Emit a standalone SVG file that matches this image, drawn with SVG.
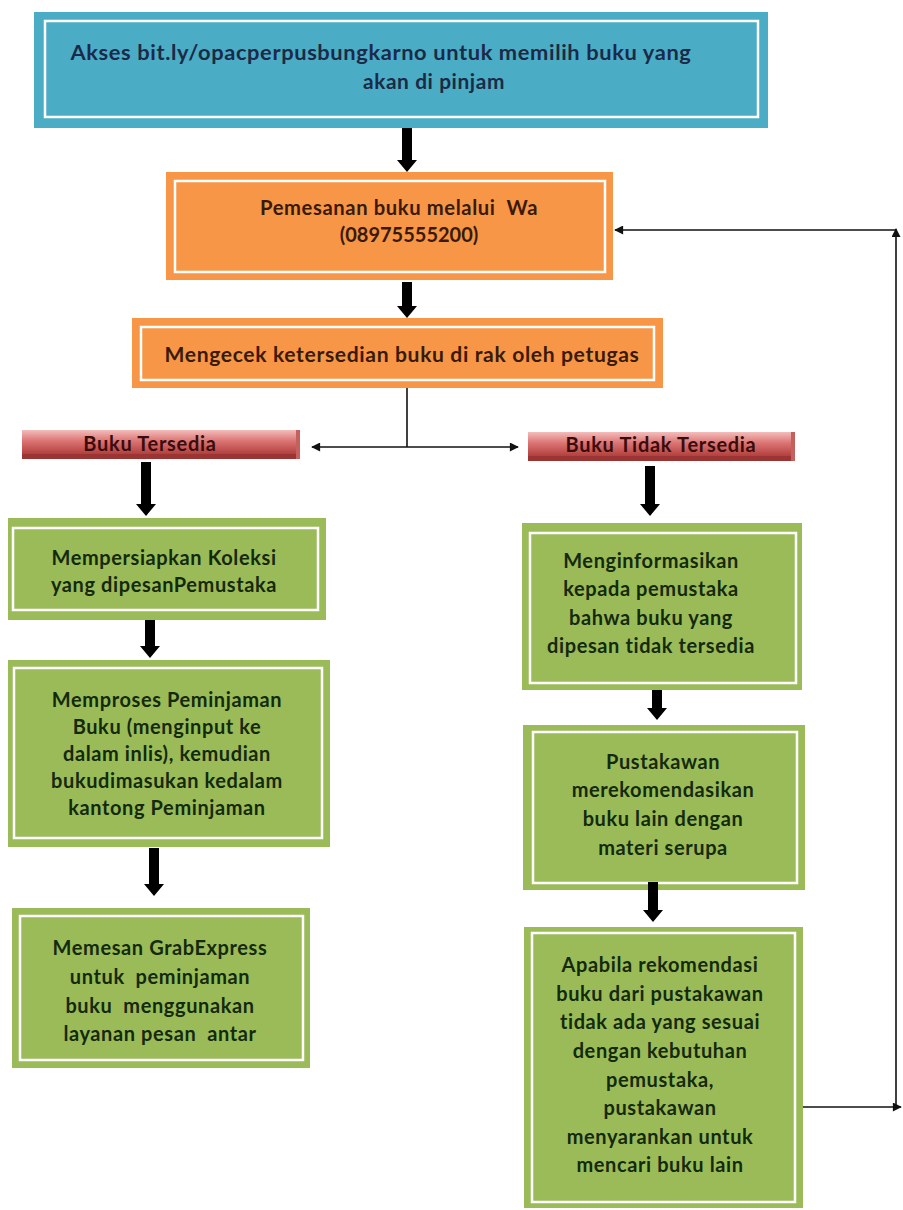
<svg xmlns="http://www.w3.org/2000/svg" width="903" height="1210" viewBox="0 0 903 1210">
<style>
text{font-family:Lato,"Liberation Sans",sans-serif;font-weight:bold;font-size:20px;letter-spacing:0.6px;text-anchor:middle;white-space:pre}
.blue{fill:#4BACC6}
.orange{fill:#F79646}
.green{fill:#9BBB59}
.inner{fill:none;stroke:#FFFFFF;stroke-width:2.5}
.tb{fill:#1B2A47;font-size:21px}
.to{fill:#3A1A06}
.tg{fill:#142A0C}
.tr{fill:#3A0C0C;letter-spacing:0.7px}
.thick{fill:#000000}
.thin{stroke:#111111;stroke-width:1.6;fill:none}
</style>
<defs>
<marker id="ah" viewBox="0 0 10 10" refX="9" refY="5" markerWidth="10" markerHeight="9" markerUnits="userSpaceOnUse" orient="auto-start-reverse">
<path d="M0,0 L10,5 L0,10 z" fill="#111111"/>
</marker>
<linearGradient id="rib" x1="0" y1="0" x2="0" y2="1">
<stop offset="0" stop-color="#F3BDBB"/>
<stop offset="0.45" stop-color="#DC7574"/>
<stop offset="1" stop-color="#B2403E"/>
</linearGradient>
</defs>

<g id="node-akses">
<rect class="blue" x="34" y="12" width="734" height="116"/>
<rect class="inner" x="45" y="21" width="713" height="96"/>
<text class="tb" x="381" y="60" textLength="621" lengthAdjust="spacingAndGlyphs">Akses bit.ly/opacperpusbungkarno untuk memilih buku yang</text>
<text class="tb" x="434" y="89" textLength="142" lengthAdjust="spacingAndGlyphs">akan di pinjam</text>
</g>

<g id="node-pemesanan">
<rect class="orange" x="166" y="172" width="447" height="108"/>
<rect class="inner" x="175" y="181" width="430" height="91"/>
<text class="to" x="399" y="215" textLength="278" lengthAdjust="spacingAndGlyphs">Pemesanan buku melalui  Wa</text>
<text class="to" x="409" y="242" style="letter-spacing:0">(08975555200)</text>
</g>

<g id="node-mengecek">
<rect class="orange" x="132" y="318" width="531" height="70"/>
<rect class="inner" x="141" y="327" width="513" height="53"/>
<text class="to" x="402" y="362" textLength="475" lengthAdjust="spacingAndGlyphs">Mengecek ketersedian buku di rak oleh petugas</text>
</g>

<g id="node-tersedia">
<rect x="22" y="430" width="278" height="29" fill="#9A3533"/>
<rect x="22" y="430" width="278" height="24" fill="url(#rib)"/>
<rect x="296" y="430" width="4" height="29" fill="#C4605E"/>
<text class="tr" x="150" y="451">Buku Tersedia</text>
</g>

<g id="node-tidak-tersedia">
<rect x="528" y="432" width="267" height="29" fill="#9A3533"/>
<rect x="528" y="432" width="267" height="24" fill="url(#rib)"/>
<rect x="791" y="432" width="4" height="29" fill="#C4605E"/>
<text class="tr" x="661" y="452">Buku Tidak Tersedia</text>
</g>

<g id="node-mempersiapkan">
<rect class="green" x="8" y="518" width="318" height="102"/>
<rect class="inner" x="13" y="528" width="305" height="82"/>
<text class="tg" x="164" y="565">Mempersiapkan Koleksi</text>
<text class="tg" x="164" y="592">yang dipesanPemustaka</text>
</g>

<g id="node-memproses">
<rect class="green" x="8" y="660" width="322" height="187"/>
<rect class="inner" x="14" y="668" width="308" height="170"/>
<text class="tg" x="167" y="707">Memproses Peminjaman</text>
<text class="tg" x="167" y="734">Buku (menginput ke</text>
<text class="tg" x="167" y="761">dalam inlis), kemudian</text>
<text class="tg" x="167" y="788">bukudimasukan kedalam</text>
<text class="tg" x="167" y="815">kantong Peminjaman</text>
</g>

<g id="node-memesan">
<rect class="green" x="12" y="908" width="298" height="160"/>
<rect class="inner" x="20" y="916" width="283" height="144"/>
<text class="tg" x="160" y="955">Memesan GrabExpress</text>
<text class="tg" x="160" y="984">untuk  peminjaman</text>
<text class="tg" x="160" y="1013">buku  menggunakan</text>
<text class="tg" x="160" y="1041">layanan pesan  antar</text>
</g>

<g id="node-menginformasikan">
<rect class="green" x="522" y="523" width="280" height="167"/>
<rect class="inner" x="530" y="533" width="266" height="150"/>
<text class="tg" x="651" y="568">Menginformasikan</text>
<text class="tg" x="651" y="596">kepada pemustaka</text>
<text class="tg" x="651" y="625">bahwa buku yang</text>
<text class="tg" x="651" y="653">dipesan tidak tersedia</text>
</g>

<g id="node-merekomendasikan">
<rect class="green" x="523" y="725" width="282" height="165"/>
<rect class="inner" x="533" y="732" width="264" height="151"/>
<text class="tg" x="663" y="769">Pustakawan</text>
<text class="tg" x="663" y="797">merekomendasikan</text>
<text class="tg" x="663" y="826">buku lain dengan</text>
<text class="tg" x="663" y="855">materi serupa</text>
</g>

<g id="node-apabila">
<rect class="green" x="524" y="927" width="279" height="281"/>
<rect class="inner" x="532" y="933" width="263" height="269"/>
<text class="tg" x="660" y="972">Apabila rekomendasi</text>
<text class="tg" x="660" y="1001">buku dari pustakawan</text>
<text class="tg" x="660" y="1029">tidak ada yang sesuai</text>
<text class="tg" x="660" y="1058">dengan kebutuhan</text>
<text class="tg" x="660" y="1087">pemustaka,</text>
<text class="tg" x="660" y="1115">pustakawan</text>
<text class="tg" x="660" y="1144">menyarankan untuk</text>
<text class="tg" x="660" y="1172">mencari buku lain</text>
</g>

<g id="connectors">
<polygon class="thick" points="402,128 412,128 412,160 417,160 407,172 397,160 402,160"/>
<polygon class="thick" points="402,282 412,282 412,306 417,306 407,318 397,306 402,306"/>
<polygon class="thick" points="141,462 151,462 151,504 156,504 146,516 136,504 141,504"/>
<polygon class="thick" points="145,620 155,620 155,646 160,646 150,658 140,646 145,646"/>
<polygon class="thick" points="149,848 159,848 159,884 164,884 154,896 144,884 149,884"/>
<polygon class="thick" points="645,466 655,466 655,504 660,504 650,516 640,504 645,504"/>
<polygon class="thick" points="652,690 662,690 662,708 667,708 657,720 647,708 652,708"/>
<polygon class="thick" points="648,882 658,882 658,910 663,910 653,922 643,910 648,910"/>
<line class="thin" x1="407" y1="388" x2="407" y2="447"/>
<line class="thin" x1="312" y1="447" x2="518" y2="447" marker-start="url(#ah)" marker-end="url(#ah)"/>
<line class="thin" x1="803" y1="1107" x2="901" y2="1107" marker-end="url(#ah)"/>
<line class="thin" x1="896" y1="1107" x2="896" y2="229" marker-end="url(#ah)"/>
<line class="thin" x1="896" y1="230" x2="615" y2="230" marker-end="url(#ah)"/>
</g>
</svg>
